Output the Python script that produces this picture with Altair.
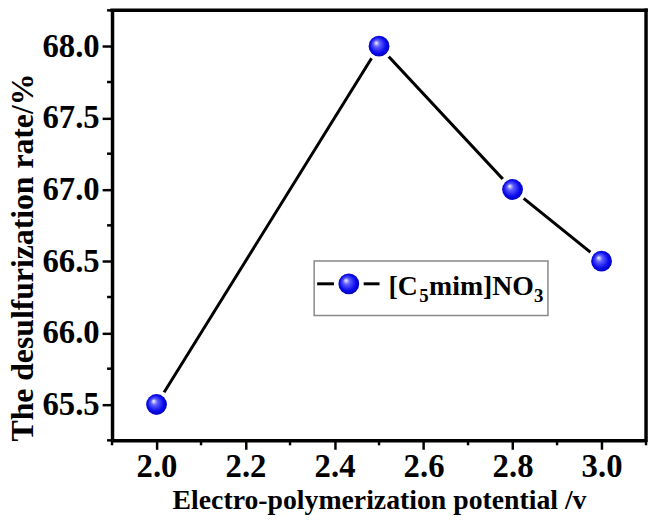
import altair as alt
import pandas as pd

# data
potential = [2.0, 2.5, 2.8, 3.0]
rate = [65.5, 68.0, 67.0, 66.5]
x_major = [2.0, 2.2, 2.4, 2.6, 2.8, 3.0]
x_minor = [1.9, 2.1, 2.3, 2.5, 2.7, 2.9, 3.1]
y_major = [65.5, 66.0, 66.5, 67.0, 67.5, 68.0]
y_minor = [65.25, 65.75, 66.25, 66.75, 67.25, 67.75, 68.25]

W, H = 539, 434
FONT = "Liberation Serif"

df = pd.DataFrame({"x": potential, "y": rate})

xscale = alt.Scale(domain=[1.9, 3.1], nice=False, zero=False)
yscale = alt.Scale(domain=[65.25, 68.25], nice=False, zero=False)

xaxis = alt.Axis(values=x_major, format=".1f", title="Electro-polymerization potential /v",
                 labelFont=FONT, labelFontWeight="bold", labelFontSize=33, labelColor="black",
                 titleFont=FONT, titleFontWeight="bold", titleFontSize=28, titleColor="black",
                 titleBaseline="alphabetic", titleY=69, titleX=W / 2,
                 tickSize=9, tickWidth=2.5, tickColor="black",
                 domain=True, domainColor="black", domainWidth=3.5, grid=False,
                 labelPadding=2)
yaxis = alt.Axis(values=y_major, format=".1f", title="The desulfurization rate/%",
                 labelFont=FONT, labelFontWeight="bold", labelFontSize=33, labelColor="black",
                 titleFont=FONT, titleFontWeight="bold", titleFontSize=32, titleColor="black",
                 titleBaseline="alphabetic", titleX=-80, titleY=249,
                 tickSize=10, tickWidth=2.5, tickColor="black",
                 domain=True, domainColor="black", domainWidth=3.5, grid=False,
                 labelPadding=3)

grad = {
    "gradient": "radial",
    "x1": 0.35, "y1": 0.33, "r1": 0,
    "x2": 0.5, "y2": 0.5, "r2": 0.55,
    "stops": [
        {"offset": 0, "color": "#ffffff"},
        {"offset": 0.28, "color": "#6060ff"},
        {"offset": 0.7, "color": "#0a0af0"},
        {"offset": 1, "color": "#0000a8"},
    ],
}

base = alt.Chart(df)
line = base.mark_line(color="black", strokeWidth=3).encode(
    x=alt.X("x:Q", scale=xscale, axis=xaxis),
    y=alt.Y("y:Q", scale=yscale, axis=yaxis),
)
halo = base.mark_point(filled=True, shape="circle", size=841, fill="white", opacity=1, strokeWidth=0).encode(
    x=alt.X("x:Q", scale=xscale), y=alt.Y("y:Q", scale=yscale))
pts = base.mark_point(filled=True, shape="circle", size=441, fill=grad, opacity=1, strokeWidth=0).encode(
    x=alt.X("x:Q", scale=xscale), y=alt.Y("y:Q", scale=yscale))

xmin = alt.Chart(pd.DataFrame({"v": x_minor})).mark_rule(color="black", strokeWidth=2.5).encode(
    x=alt.X("v:Q", scale=xscale), y=alt.value(H), y2=alt.value(H + 5))
ymin = alt.Chart(pd.DataFrame({"v": y_minor})).mark_rule(color="black", strokeWidth=2.5).encode(
    y=alt.Y("v:Q", scale=yscale), x=alt.value(0), x2=alt.value(-5))

one = pd.DataFrame({"a": [0]})
lg = alt.Chart(one)

# plot frame: top and right edges
fkw = dict(color="black", strokeWidth=3.5, strokeCap="square", opacity=1)
f_top = lg.mark_rule(**fkw).encode(x=alt.value(0), x2=alt.value(W), y=alt.value(0))
f_right = lg.mark_rule(**fkw).encode(y=alt.value(0), y2=alt.value(H), x=alt.value(W))

# legend (drawn by hand)
box = lg.mark_rect(fill="white", stroke="#888888", strokeWidth=1.5).encode(
    x=alt.value(204), x2=alt.value(440), y=alt.value(253), y2=alt.value(308))
seg1 = lg.mark_rule(color="black", strokeWidth=3).encode(
    x=alt.value(207), x2=alt.value(224), y=alt.value(276))
seg2 = lg.mark_rule(color="black", strokeWidth=3).encode(
    x=alt.value(254), x2=alt.value(270), y=alt.value(276))
lpt = lg.mark_point(filled=True, shape="circle", size=441, fill=grad, opacity=1, strokeWidth=0).encode(
    x=alt.value(239), y=alt.value(276))
t1 = lg.mark_text(text="[C", font=FONT, fontWeight="bold", fontSize=28, align="left",
                  baseline="alphabetic", color="black").encode(x=alt.value(279), y=alt.value(287))
t2 = lg.mark_text(text="5", font=FONT, fontWeight="bold", fontSize=19, align="left",
                  baseline="alphabetic", color="black").encode(x=alt.value(310), y=alt.value(294))
t3 = lg.mark_text(text="mim]NO", font=FONT, fontWeight="bold", fontSize=28, align="left",
                  baseline="alphabetic", color="black").encode(x=alt.value(320), y=alt.value(287))
t4 = lg.mark_text(text="3", font=FONT, fontWeight="bold", fontSize=19, align="left",
                  baseline="alphabetic", color="black").encode(x=alt.value(426), y=alt.value(294))

chart = alt.layer(line, halo, pts, xmin, ymin, f_top, f_right,
                  box, seg1, seg2, lpt, t1, t2, t3, t4).properties(
    width=W, height=H,
    padding={"left": 105, "top": 0, "right": 5, "bottom": 75},
    autosize=alt.AutoSizeParams(type="none"),
    background="white",
).configure_view(stroke="transparent", strokeWidth=0)

chart.save("out.html", embed_options={"renderer": "svg", "actions": False})
